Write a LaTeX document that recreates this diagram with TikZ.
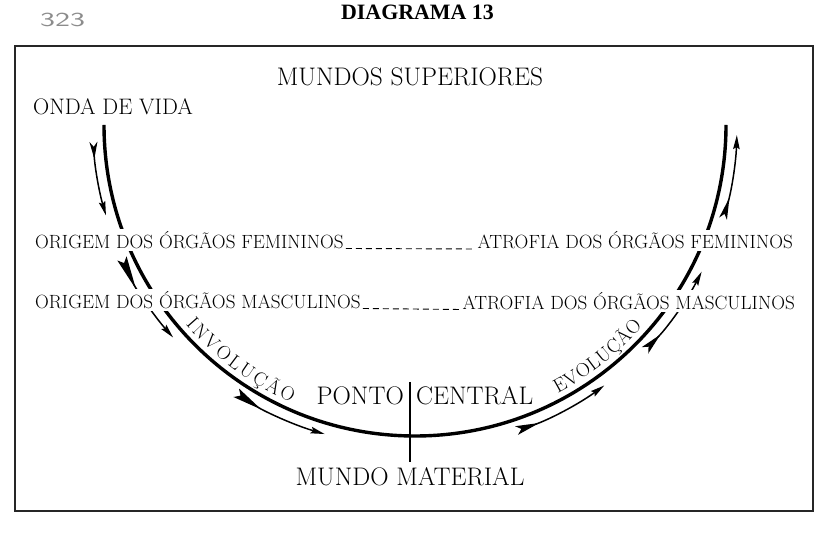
\documentclass[tikz,border=0pt]{standalone}
\usepackage{fontspec}
\usepackage{graphicx}
\newfontfamily\titlefont{Liberation Serif}
\usetikzlibrary{arrows.meta,decorations.text}
\newcommand\bigfont{\fontsize{25.5}{26}\selectfont}
\newcommand\orgfont{\fontsize{19.2}{19.5}\selectfont}
\newcommand\curvefont{\fontsize{19.5}{19.5}\selectfont}
\tikzset{
  framestyle/.style={line width=1.3bp, draw=black!85},
  mainarc/.style={line width=3.4bp},
  flowarrow/.style n args={2}{line width=1.5bp,
    {Stealth[reversed,length=#1bp,width=#2bp,inset=5bp]}-{Stealth[length=14bp,width=6.5bp,inset=2bp]}},
  orglabel/.style={font=\orgfont, fill=white, inner sep=2bp},
  biglabel/.style={font=\bigfont, inner sep=0pt},
  dashline/.style={line width=0.9bp, dash pattern=on 6bp off 4bp},
}
\begin{document}
\begin{tikzpicture}[x=1bp,y=1bp]
\useasboundingbox (0,0) rectangle (833,540);
\coordinate (C) at (415,415);

% frame
\draw[framestyle] (15,494) rectangle (813,29);

% header
\node[anchor=base, inner sep=0pt, font=\titlefont\bfseries\fontsize{22}{22}\selectfont] (title) at (417.5,520) {DIAGRAMA 13};
\node[anchor=base west, inner sep=0pt, text=black!45, font=\sffamily\fontsize{20}{20}\selectfont] (page) at (40,513) {\scalebox{1.6}[1]{323}};

% main U curve
\draw[mainarc] ([shift={(180:311)}]C) arc[start angle=180, end angle=360, radius=311];

% flow arrows
\draw[flowarrow={17}{8}]  ([shift={(-177:322)}]C)   arc[start angle=-177,   end angle=-163.7, radius=322];
\draw[flowarrow={34}{10}] ([shift={(-155.5:322)}]C) arc[start angle=-155.5, end angle=-138.7, radius=322];
\draw[flowarrow={30}{10}] ([shift={(-123.7:322)}]C) arc[start angle=-123.7, end angle=-106.3, radius=322];
\draw[flowarrow={24}{9}]  ([shift={(-71.6:322)}]C)  arc[start angle=-71.6,  end angle=-54,    radius=322];
\draw[flowarrow={22}{9}]  ([shift={(-44.4:322)}]C)  arc[start angle=-44.4,  end angle=-27.1,  radius=322];
\draw[flowarrow={22}{8}]  ([shift={(-16.9:322)}]C)  arc[start angle=-16.9,  end angle=-1.8,   radius=322];

% curved labels
\path[decorate, decoration={text along path, text={|\curvefont|INVOLUÇÃO}, text align=fit to path}]
  ([shift={(-139:304)}]C) arc[start angle=-139, end angle=-114, radius=304];
\path[decorate, decoration={text along path, text={|\curvefont|EVOLUÇÃO}, text align=fit to path}]
  ([shift={(-62:304)}]C) arc[start angle=-62, end angle=-41.5, radius=304];

% central line
\coordinate (vtop) at (410,158);
\coordinate (vbot) at (410,78);
\draw[line width=1.4bp] (vtop) -- (vbot);

% big labels
\node[biglabel, anchor=base] (sup) at (410,454) {MUNDOS SUPERIORES};
\node[biglabel, anchor=base west, font=\fontsize{22.5}{23}\selectfont] (onda) at (33,425) {ONDA DE VIDA};
\node[biglabel, anchor=base east] (ponto) at (404,135) {PONTO};
\node[biglabel, anchor=base west] (central) at (416,135) {CENTRAL};
\node[biglabel, anchor=base] (mat) at (410,54) {MUNDO MATERIAL};

% organ labels
\node[orglabel, anchor=base west] (ofem) at (33,291.5) {ORIGEM DOS ÓRGÃOS FEMININOS};
\node[orglabel, anchor=base east] (afem) at (795,291) {ATROFIA DOS ÓRGÃOS FEMININOS};
\node[orglabel, anchor=base west] (omas) at (33,231.5) {ORIGEM DOS ÓRGÃOS MASCULINOS};
\node[orglabel, anchor=base east] (amas) at (797,230.5) {ATROFIA DOS ÓRGÃOS MASCULINOS};
\draw[dashline] (ofem.base east) -- (afem.base west);
\draw[dashline] (omas.base east) -- (amas.base west);
\end{tikzpicture}
\end{document}
